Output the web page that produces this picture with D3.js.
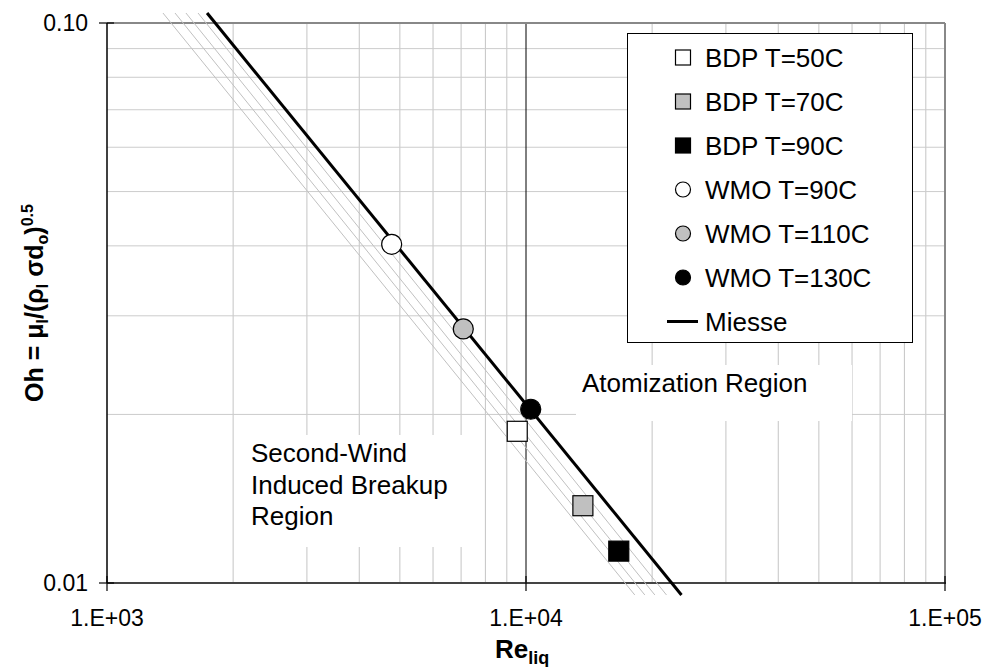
<!DOCTYPE html>
<html lang="en">
<head>
    <meta charset="UTF-8">
    <title>Oh vs Re chart</title>
    <script src="https://d3js.org/d3.v7.min.js"></script>
    <style>
        body { margin: 0; background: #fff; font-family: "Liberation Sans", Arial, sans-serif; }
        text { font-family: "Liberation Sans", Arial, sans-serif; fill: #000; }
    </style>
</head>
<body>
<div id="chart"></div>
<script>
    // data
    const seriesNames = ["BDP T=50C", "BDP T=70C", "BDP T=90C", "WMO T=90C", "WMO T=110C", "WMO T=130C"];
    const reValues = [9530, 13670, 16650, 4780, 7085, 10265];
    const ohValues = [0.01866, 0.01374, 0.01140, 0.04025, 0.02842, 0.02043];

    // Miesse correlation line (end points)
    const miesseRe = [1733, 23500];
    const miesseOh = [0.1042, 0.00952];

    // thin grey band lines (start / end Re, same Oh end points)
    const bandStartRe = [1360, 1453, 1543, 1649];
    const bandEndRe = [18180, 19210, 20300, 21640];

    const xTickValues = [1e3, 1e4, 1e5];
    const xTickLabels = ["1.E+03", "1.E+04", "1.E+05"];
    const yTickValues = [0.1, 0.01];
    const yTickLabels = ["0.10", "0.01"];

    // marker styles per series
    const shapes = ["square", "square", "square", "circle", "circle", "circle"];
    const fills = ["#fff", "#c0c0c0", "#000", "#fff", "#c0c0c0", "#000"];

    const width = 986, height = 667;
    const plot = { left: 107, right: 945, top: 23, bottom: 583 };

    const svg = d3.select("#chart").append("svg")
        .attr("width", width)
        .attr("height", height);

    const x = d3.scaleLog().domain([1e3, 1e5]).range([plot.left, plot.right]);
    const y = d3.scaleLog().domain([0.01, 0.1]).range([plot.bottom, plot.top]);

    // minor grid
    const xMinor = [], yMinor = [];
    [1e3, 1e4].forEach(d => { for (let k = 2; k <= 9; k++) xMinor.push(d * k); });
    for (let k = 2; k <= 9; k++) yMinor.push(0.01 * k);

    const grid = svg.append("g");
    grid.selectAll("line.vx").data(xMinor).enter().append("line")
        .attr("x1", d => x(d)).attr("x2", d => x(d))
        .attr("y1", plot.top).attr("y2", plot.bottom)
        .attr("stroke", "#c4c4c4").attr("stroke-width", 1);
    grid.selectAll("line.hy").data(yMinor).enter().append("line")
        .attr("x1", plot.left).attr("x2", plot.right)
        .attr("y1", d => y(d)).attr("y2", d => y(d))
        .attr("stroke", "#cccccc").attr("stroke-width", 1);

    // white boxes behind region labels
    svg.append("rect").attr("x", 576).attr("y", 365).attr("width", 276).attr("height", 56).attr("fill", "#fff");
    svg.append("rect").attr("x", 236).attr("y", 435).attr("width", 234).attr("height", 112).attr("fill", "#fff");

    // major gridline at 1e4
    svg.append("line")
        .attr("x1", x(1e4)).attr("x2", x(1e4))
        .attr("y1", plot.top).attr("y2", plot.bottom)
        .attr("stroke", "#000").attr("stroke-width", 1);

    // frame
    svg.append("line").attr("x1", plot.left).attr("x2", plot.right).attr("y1", plot.top).attr("y2", plot.top)
        .attr("stroke", "#888").attr("stroke-width", 2);
    svg.append("line").attr("x1", plot.right).attr("x2", plot.right).attr("y1", plot.top).attr("y2", plot.bottom)
        .attr("stroke", "#888").attr("stroke-width", 2);
    svg.append("line").attr("x1", plot.left).attr("x2", plot.right + 1).attr("y1", plot.bottom).attr("y2", plot.bottom)
        .attr("stroke", "#444").attr("stroke-width", 2);
    svg.append("line").attr("x1", plot.left).attr("x2", plot.left).attr("y1", plot.top).attr("y2", plot.bottom)
        .attr("stroke", "#000").attr("stroke-width", 1.5);

    // ticks
    svg.selectAll("line.ytick").data(yTickValues).enter().append("line")
        .attr("x1", plot.left - 8).attr("x2", plot.left + 7)
        .attr("y1", d => y(d)).attr("y2", d => y(d))
        .attr("stroke", "#000").attr("stroke-width", 1.2);
    svg.selectAll("line.xtick").data(xTickValues).enter().append("line")
        .attr("x1", d => x(d)).attr("x2", d => x(d))
        .attr("y1", plot.bottom - 7).attr("y2", plot.bottom + 8)
        .attr("stroke", "#000").attr("stroke-width", 1.2);

    svg.selectAll("text.ylab").data(yTickValues).enter().append("text")
        .attr("x", 88).attr("y", d => y(d))
        .attr("dy", "0.35em")
        .attr("text-anchor", "end")
        .style("font-size", "23px")
        .text((d, i) => yTickLabels[i]);
    svg.selectAll("text.xlab").data(xTickValues).enter().append("text")
        .attr("x", d => x(d)).attr("y", 626)
        .attr("text-anchor", "middle")
        .style("font-size", "23px")
        .text((d, i) => xTickLabels[i]);

    // axis titles
    const xt = svg.append("text").attr("x", 522).attr("y", 658)
        .attr("text-anchor", "middle").style("font-weight", "bold").style("font-size", "26px");
    xt.append("tspan").text("Re");
    xt.append("tspan").attr("dy", 6).style("font-size", "18px").text("liq");

    const yt = svg.append("text")
        .attr("transform", "translate(43,303) rotate(-90)")
        .attr("text-anchor", "middle").style("font-weight", "bold").style("font-size", "25px");
    yt.append("tspan").text("Oh = μ");
    yt.append("tspan").attr("dy", 5).style("font-size", "16px").text("l");
    yt.append("tspan").attr("dy", -5).text("/(ρ");
    yt.append("tspan").attr("dy", 5).style("font-size", "16px").text("l");
    yt.append("tspan").attr("dy", -5).text(" σd");
    yt.append("tspan").attr("dy", 5).style("font-size", "16px").text("o");
    yt.append("tspan").attr("dy", -5).text(")");
    yt.append("tspan").attr("dy", -10).style("font-size", "16px").text("0.5");

    // lines
    const line = d3.line().x(d => x(d[0])).y(d => y(d[1]));
    bandStartRe.forEach((r0, i) => {
        svg.append("path")
            .attr("d", line([[r0, miesseOh[0]], [bandEndRe[i], miesseOh[1]]]))
            .attr("fill", "none").attr("stroke", "#c0c0c0").attr("stroke-width", 1);
    });
    svg.append("path")
        .attr("d", line([[miesseRe[0], miesseOh[0]], [miesseRe[1], miesseOh[1]]]))
        .attr("fill", "none").attr("stroke", "#000").attr("stroke-width", 3);

    // region labels
    svg.append("text").attr("x", 582).attr("y", 392).style("font-size", "26px").text("Atomization Region");
    const sw = svg.append("text").attr("x", 251).attr("y", 462).style("font-size", "26px");
    ["Second-Wind", "Induced Breakup", "Region"].forEach((t, i) => {
        sw.append("tspan").attr("x", 251).attr("dy", i === 0 ? 0 : 31.5).text(t);
    });

    // markers
    function drawMarker(g, shape, cx, cy, size, fill) {
        if (shape === "square") {
            g.append("rect")
                .attr("x", cx - size / 2).attr("y", cy - size / 2)
                .attr("width", size).attr("height", size)
                .attr("fill", fill).attr("stroke", "#000").attr("stroke-width", 1.2);
        } else {
            g.append("circle")
                .attr("cx", cx).attr("cy", cy).attr("r", size / 2)
                .attr("fill", fill).attr("stroke", "#000").attr("stroke-width", 1.2);
        }
    }
    const pts = svg.append("g");
    seriesNames.forEach((n, i) => {
        drawMarker(pts, shapes[i], x(reValues[i]), y(ohValues[i]), 20, fills[i]);
    });

    // legend
    const lg = svg.append("g");
    lg.append("rect").attr("x", 627.5).attr("y", 33.5).attr("width", 285).attr("height", 309)
        .attr("fill", "#fff").attr("stroke", "#000").attr("stroke-width", 1);
    const rowY = i => 57.5 + i * 44;
    seriesNames.forEach((n, i) => {
        drawMarker(lg, shapes[i], 683, rowY(i), 15, fills[i]);
        lg.append("text").attr("x", 705).attr("y", rowY(i)).attr("dy", "0.35em")
            .style("font-size", "26px").text(n);
    });
    lg.append("line").attr("x1", 667).attr("x2", 698).attr("y1", rowY(6)).attr("y2", rowY(6))
        .attr("stroke", "#000").attr("stroke-width", 3);
    lg.append("text").attr("x", 705).attr("y", rowY(6)).attr("dy", "0.35em")
        .style("font-size", "26px").text("Miesse");
</script>
</body>
</html>
